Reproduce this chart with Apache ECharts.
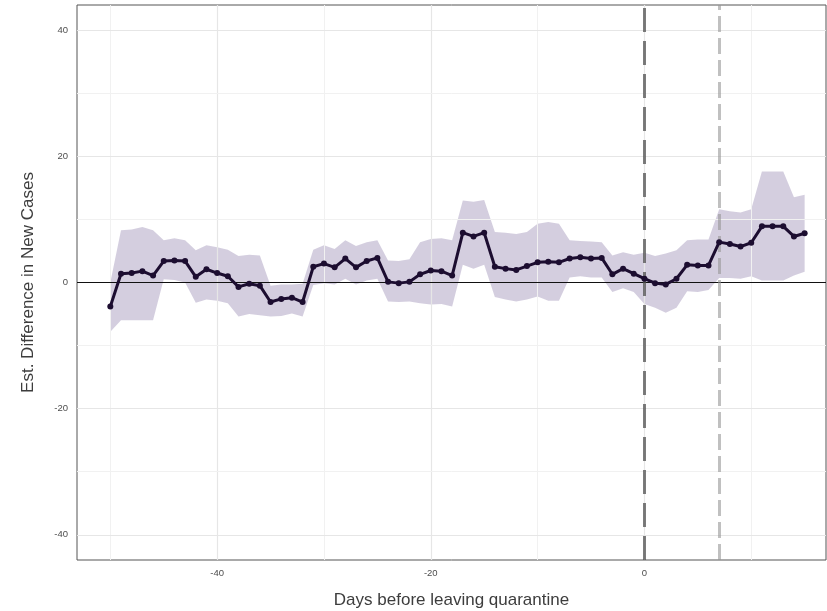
<!DOCTYPE html>
<html><head><meta charset="utf-8">
<script src="https://cdn.jsdelivr.net/npm/echarts@6/dist/echarts.min.js"></script>
<style>html,body{margin:0;padding:0;background:#fff}#c{width:827px;height:611px}</style>
</head><body><div id="c"></div>
<script>
const days = [-50,-49,-48,-47,-46,-45,-44,-43,-42,-41,-40,-39,-38,-37,-36,-35,-34,-33,-32,-31,-30,-29,-28,-27,-26,-25,-24,-23,-22,-21,-20,-19,-18,-17,-16,-15,-14,-13,-12,-11,-10,-9,-8,-7,-6,-5,-4,-3,-2,-1,0,1,2,3,4,5,6,7,8,9,10,11,12,13,14,15];
const estimate = [-3.8,1.4,1.5,1.8,1.1,3.4,3.5,3.4,0.9,2.1,1.5,1.0,-0.7,-0.2,-0.5,-3.1,-2.6,-2.4,-3.1,2.5,3.0,2.4,3.8,2.4,3.4,3.9,0.1,-0.1,0.1,1.3,1.9,1.8,1.1,7.9,7.3,7.9,2.5,2.2,2.0,2.6,3.2,3.3,3.2,3.8,4.0,3.8,3.9,1.3,2.2,1.4,0.6,-0.1,-0.3,0.6,2.8,2.7,2.7,6.4,6.1,5.7,6.3,8.9,8.9,8.9,7.3,7.8];
const upper = [0.0,8.3,8.4,8.8,8.3,6.7,7.0,6.7,5.1,5.9,5.6,5.2,4.2,4.4,4.3,-0.5,-0.3,-0.3,-0.2,5.2,5.9,5.3,6.7,5.8,6.4,6.7,3.5,3.4,3.7,6.4,6.9,7.0,6.7,13.0,12.8,13.1,8.0,7.9,7.7,8.0,9.3,9.6,9.3,6.7,6.6,6.5,6.4,4.3,4.8,4.4,4.7,4.2,4.6,5.1,6.7,6.8,6.8,11.6,11.3,11.1,11.6,17.6,17.6,17.6,13.5,13.9];
const lower = [-7.8,-6.0,-6.0,-6.0,-6.0,0.5,0.4,0.0,-3.2,-2.7,-2.9,-3.3,-5.4,-5.0,-5.2,-5.4,-5.3,-4.9,-5.4,-0.4,-0.1,-0.3,0.6,-0.3,0.3,0.6,-3.0,-3.1,-3.0,-3.3,-3.5,-3.4,-3.8,2.8,2.2,2.8,-2.3,-2.7,-3.0,-2.7,-2.2,-2.9,-2.9,0.8,1.0,0.8,0.8,-1.5,-0.9,-1.5,-3.4,-4.0,-4.8,-4.0,-1.4,-1.5,-1.2,0.7,0.7,0.6,1.0,0.3,0.3,0.3,1.1,1.7];
const xTicks = [-40,-20,0];
const xMinor = [-50,-30,-10,10];
const yTicks = [-40,-20,0,20,40];
const yMinor = [-30,-10,10,30];
const xRange = [-53.12, 17.0];
const yRange = [-44, 44];
const vlineMain = 0;
const vlineSecond = 7;

const FONT = "'Liberation Sans', Arial, sans-serif";
const chart = echarts.init(document.getElementById('c'), null, {renderer:'canvas'});

const gridLineData = [].concat(
  xTicks.map(v => ({xAxis: v, lineStyle:{color:'#e6e6e6', width:1.2, type:'solid'}})),
  xMinor.map(v => ({xAxis: v, lineStyle:{color:'#f1f1f1', width:1, type:'solid'}})),
  yTicks.map(v => ({yAxis: v, lineStyle:{color:'#e6e6e6', width:1.2, type:'solid'}})),
  yMinor.map(v => ({yAxis: v, lineStyle:{color:'#f1f1f1', width:1, type:'solid'}}))
);

chart.setOption({
  animation:false,
  backgroundColor:'#ffffff',
  textStyle:{fontFamily:FONT},
  grid:{left:77, right:1, top:5, bottom:51, show:true, borderColor:'#555555', borderWidth:1,
        backgroundColor:'transparent', containLabel:false, outerBoundsMode:'none'},
  xAxis:{
    type:'value', min:xRange[0], max:xRange[1],
    splitLine:{show:false},
    axisLine:{show:false},
    axisTick:{show:true, customValues:xTicks, length:5, lineStyle:{color:'#333333', width:1}},
    axisLabel:{customValues:xTicks, fontSize:9.5, color:'#4d4d4d', margin:8, fontFamily:FONT},
    name:'Days before leaving quarantine', nameLocation:'middle', nameGap:32,
    nameTextStyle:{fontSize:17, color:'#3d3d3d', fontFamily:FONT}
  },
  yAxis:{
    type:'value', min:yRange[0], max:yRange[1],
    splitLine:{show:false},
    axisLine:{show:false},
    axisTick:{show:true, customValues:yTicks, length:5, lineStyle:{color:'#333333', width:1}},
    axisLabel:{customValues:yTicks, fontSize:9.5, color:'#4d4d4d', margin:9, fontFamily:FONT},
    name:'Est. Difference in New Cases', nameLocation:'middle', nameGap:40,
    nameTextStyle:{fontSize:17, color:'#3d3d3d', fontFamily:FONT}
  },
  series:[
    {
      type:'line', data:[], silent:true, z:1,
      markLine:{silent:true, symbol:['none','none'], label:{show:false}, animation:false,
        emphasis:{disabled:true}, data:gridLineData}
    },
    {
      type:'custom', coordinateSystem:'cartesian2d', silent:true, z:2,
      data:[[days[0], estimate[0]]],
      renderItem:function(params, api){
        const pts = [];
        for (let i=0;i<days.length;i++) pts.push(api.coord([days[i], upper[i]]));
        for (let i=days.length-1;i>=0;i--) pts.push(api.coord([days[i], lower[i]]));
        return {type:'polygon', shape:{points:pts}, style:{fill:'rgba(75,50,120,0.24)'}};
      }
    },
    {
      type:'line', data:[], silent:true, z:3,
      markLine:{silent:true, symbol:['none','none'], label:{show:false}, animation:false,
        emphasis:{disabled:true},
        data:[{yAxis:0, lineStyle:{color:'#111111', width:1.2, type:'solid'}}]}
    },
    {
      type:'line', data:[], silent:true, z:4,
      markLine:{silent:true, symbol:['none','none'], label:{show:false}, animation:false,
        emphasis:{disabled:true},
        data:[
          {xAxis:vlineMain, lineStyle:{color:'rgba(80,80,80,0.75)', width:3, type:[24,9]}},
          {xAxis:vlineSecond, lineStyle:{color:'rgba(150,150,150,0.6)', width:3, type:[16,6]}}
        ]}
    },
    {
      type:'line', z:5,
      data:days.map((d,i)=>[d, estimate[i]]),
      symbol:'circle', symbolSize:6, showSymbol:true,
      lineStyle:{color:'#1c0d30', width:3},
      itemStyle:{color:'#1c0d30', borderWidth:0},
      emphasis:{disabled:true}
    }
  ]
});
</script>
</body></html>
